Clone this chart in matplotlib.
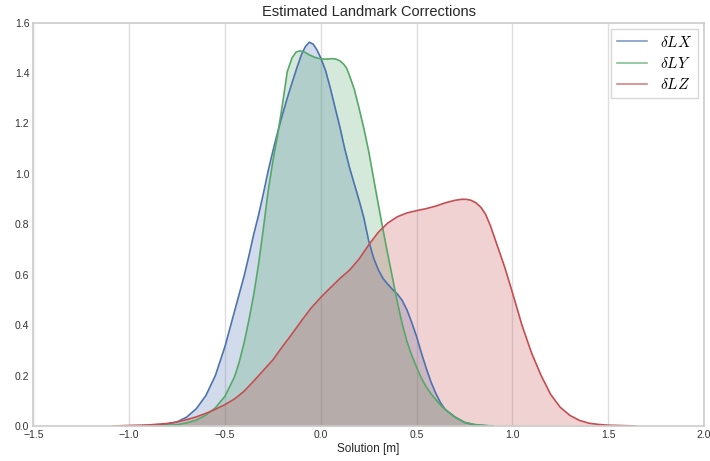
import matplotlib
matplotlib.use("Agg")
import matplotlib.pyplot as plt

plt.rcParams["font.family"] = ["Liberation Sans", "DejaVu Sans"]
plt.rcParams["mathtext.fontset"] = "cm"

# Kernel density estimates of the landmark corrections (density vs. solution in metres)
x_dlx = [-0.95, -0.90, -0.85, -0.80, -0.75, -0.70, -0.65, -0.60, -0.55, -0.50,
         -0.45, -0.40, -0.375, -0.35, -0.325, -0.30, -0.275, -0.25, -0.225, -0.20,
         -0.175, -0.15, -0.125, -0.10, -0.08, -0.06, -0.04, -0.02, 0.00, 0.025,
         0.05, 0.075, 0.10, 0.125, 0.15, 0.175, 0.20, 0.225, 0.25, 0.275,
         0.30, 0.325, 0.35, 0.375, 0.40, 0.425, 0.45, 0.475, 0.50, 0.525,
         0.55, 0.575, 0.60, 0.625, 0.65, 0.70, 0.75, 0.80, 0.85, 0.90]
y_dlx = [0.000, 0.002, 0.004, 0.008, 0.016, 0.035, 0.068, 0.120, 0.200, 0.315,
         0.455, 0.595, 0.675, 0.760, 0.835, 0.920, 1.010, 1.090, 1.165, 1.235,
         1.300, 1.361, 1.420, 1.475, 1.505, 1.522, 1.515, 1.492, 1.460, 1.410,
         1.340, 1.262, 1.185, 1.100, 1.025, 0.960, 0.895, 0.825, 0.735, 0.668,
         0.620, 0.585, 0.562, 0.541, 0.523, 0.498, 0.460, 0.410, 0.355, 0.290,
         0.230, 0.175, 0.130, 0.092, 0.065, 0.036, 0.014, 0.005, 0.002, 0.000]

x_dly = [-0.90, -0.85, -0.80, -0.75, -0.70, -0.65, -0.60, -0.55, -0.50, -0.45,
         -0.425, -0.40, -0.375, -0.35, -0.325, -0.30, -0.275, -0.25, -0.225, -0.20,
         -0.175, -0.15, -0.13, -0.11, -0.085, -0.06, -0.03, 0.00, 0.03, 0.06,
         0.08, 0.10, 0.12, 0.135, 0.15, 0.175, 0.20, 0.225, 0.25, 0.275,
         0.30, 0.325, 0.35, 0.375, 0.40, 0.425, 0.45, 0.475, 0.50, 0.525,
         0.55, 0.575, 0.60, 0.625, 0.65, 0.70, 0.75, 0.80, 0.85, 0.88]
y_dly = [0.000, 0.001, 0.003, 0.005, 0.012, 0.023, 0.043, 0.072, 0.118, 0.195,
         0.255, 0.330, 0.420, 0.520, 0.640, 0.780, 0.930, 1.050, 1.155, 1.275,
         1.405, 1.460, 1.482, 1.488, 1.483, 1.472, 1.462, 1.456, 1.455, 1.457,
         1.455, 1.448, 1.435, 1.419, 1.390, 1.335, 1.260, 1.180, 1.090, 0.985,
         0.880, 0.778, 0.680, 0.585, 0.490, 0.405, 0.335, 0.280, 0.233, 0.190,
         0.156, 0.128, 0.105, 0.083, 0.065, 0.035, 0.015, 0.006, 0.002, 0.000]

x_dlz = [-1.08, -1.00, -0.90, -0.80, -0.75, -0.70, -0.65, -0.60, -0.55, -0.50,
         -0.45, -0.40, -0.35, -0.30, -0.25, -0.20, -0.15, -0.10, -0.05, 0.00,
         0.05, 0.10, 0.15, 0.20, 0.25, 0.30, 0.35, 0.40, 0.45, 0.50,
         0.55, 0.60, 0.65, 0.70, 0.735, 0.76, 0.785, 0.81, 0.835, 0.86,
         0.885, 0.91, 0.935, 0.96, 1.00, 1.05, 1.10, 1.15, 1.20, 1.25,
         1.30, 1.35, 1.40, 1.45, 1.50, 1.55, 1.60, 1.64]
y_dlz = [0.000, 0.002, 0.004, 0.010, 0.016, 0.025, 0.036, 0.050, 0.066, 0.085,
         0.107, 0.138, 0.178, 0.220, 0.262, 0.315, 0.365, 0.418, 0.468, 0.510,
         0.548, 0.585, 0.618, 0.662, 0.718, 0.768, 0.805, 0.830, 0.845, 0.854,
         0.862, 0.872, 0.885, 0.895, 0.899, 0.899, 0.895, 0.885, 0.868, 0.840,
         0.795, 0.740, 0.685, 0.630, 0.530, 0.400, 0.290, 0.200, 0.125, 0.074,
         0.042, 0.022, 0.011, 0.006, 0.003, 0.002, 0.001, 0.000]

labels = [r"$\delta LX$", r"$\delta LY$", r"$\delta LZ$"]
colors = ["#4C72B0", "#55A868", "#C44E52"]

fig = plt.figure(figsize=(7.10, 4.61), dpi=100)
ax = fig.add_axes([0.047, 0.076, 0.9445, 0.875])

series = [(x_dlx, y_dlx), (x_dly, y_dly), (x_dlz, y_dlz)]
handles = []
for (xs, ys), c, lab in zip(series, colors, labels):
    ax.fill_between(xs, ys, 0, color=c, alpha=0.25, linewidth=0)
    line, = ax.plot(xs, ys, color=c, lw=1.2, label=lab)
    handles.append(line)

ax.set_xlim(-1.5, 2.0)
ax.set_ylim(0, 1.6)
ax.set_xticks([-1.5, -1.0, -0.5, 0.0, 0.5, 1.0, 1.5, 2.0])
ax.set_yticks([0.0, 0.2, 0.4, 0.6, 0.8, 1.0, 1.2, 1.4, 1.6])
ax.xaxis.grid(True, color="#dddddd", lw=1.0)
ax.yaxis.grid(False)
ax.set_axisbelow(True)
for sp in ax.spines.values():
    sp.set_color("#cccccc")
    sp.set_linewidth(1.2)
ax.tick_params(length=0, labelsize=7.5, labelcolor="#333333", pad=3)
ax.set_xlabel("Solution [m]", fontsize=8.5, color="#262626", labelpad=2)
ax.set_title("Estimated Landmark Corrections", fontsize=10.5, color="#262626", pad=5)

leg = ax.legend(handles=handles, loc="upper right", fontsize=11, frameon=True,
                fancybox=False, edgecolor="#cccccc", handlelength=2.0,
                borderpad=0.4, labelspacing=0.4, borderaxespad=0.4)
for lh in leg.get_lines():
    lh.set_alpha(0.7)
leg.get_frame().set_linewidth(1.0)

fig.savefig("out.png", dpi=100)
